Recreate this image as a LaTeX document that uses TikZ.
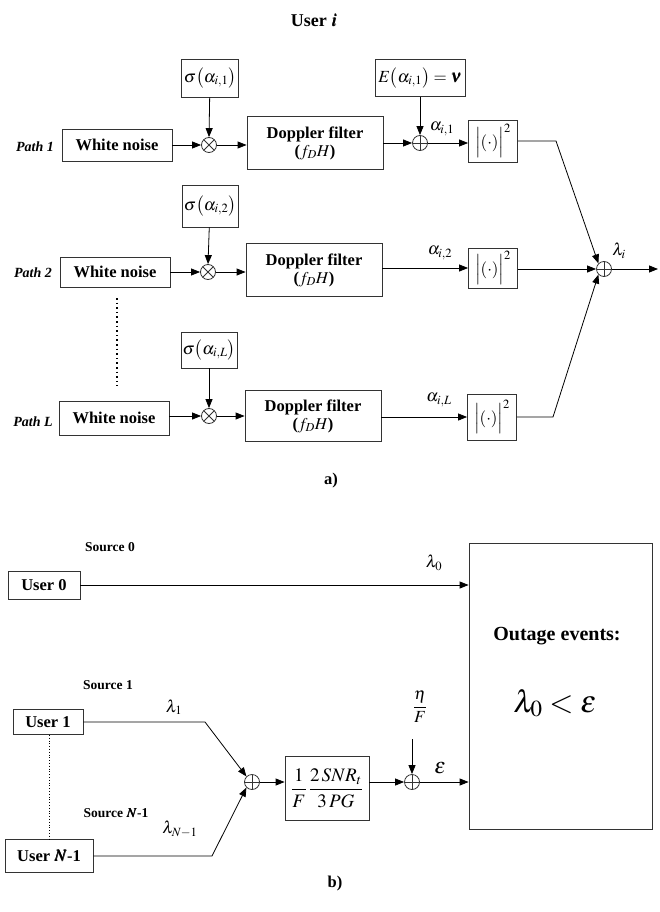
\documentclass[tikz,border=0pt]{standalone}
\usepackage{amsmath}
\usepackage{mathptmx}
\usepackage{bm}
\usepackage{fontspec}
\setmainfont{Liberation Serif}
\usetikzlibrary{arrows.meta,calc}
\tikzset{
  every picture/.style={line width=0.8pt},
  box/.style={draw=black!80, inner sep=0pt, align=center},
  lab/.style={inner sep=0pt, font=\fontsize{16.5}{18}\selectfont\bfseries},
  mth/.style={inner sep=0pt, font=\fontsize{17}{19}\selectfont},
  small/.style={inner sep=0pt, font=\fontsize{13.5}{15}\selectfont\bfseries},
  pathlab/.style={inner sep=0pt, font=\fontsize{14}{16}\selectfont\bfseries\itshape},
  junc/.style={draw=black!80, circle, minimum size=15pt, inner sep=0pt},
  arr/.style={-{Triangle[length=9pt,width=7pt]}},
}
\newcommand{\mult}[1]{\draw[black!80] ($(#1)+(-5.3,-5.3)$) -- ($(#1)+(5.3,5.3)$) ($(#1)+(-5.3,5.3)$) -- ($(#1)+(5.3,-5.3)$);}
\newcommand{\addr}[1]{\draw[black!80] ($(#1)+(-7.5,0)$) -- ($(#1)+(7.5,0)$) ($(#1)+(0,-7.5)$) -- ($(#1)+(0,7.5)$);}
\newcommand{\sq}{$\Bigl|(\cdot)\Bigr|^2$}
\begin{document}
\begin{tikzpicture}[x=1pt,y=-1pt]
\useasboundingbox (0,0) rectangle (659,912);

% ---------- part a ----------
\node[inner sep=0pt, font=\fontsize{18}{20}\selectfont\bfseries] (title) at (314,20) {User $\bm{i}$};

% Path 1
\node[pathlab] (p1) at (35,147) {Path 1};
\node[box, lab, minimum width=110pt, minimum height=32pt] (wn1) at (117,145) {White noise};
\node[junc] (m1) at (209,145) {}; \mult{m1}
\node[box, mth, minimum width=57pt, minimum height=38pt] (s1) at (210,78) {$\sigma\bigl(\alpha_{i,1}\bigr)$};
\node[box, lab, minimum width=136pt, minimum height=53pt] (d1) at (315,143) {Doppler filter\\($f_D H$)};
\node[junc] (a1) at (420,143) {}; \addr{a1}
\node[box, mth, minimum width=90pt, minimum height=37pt] (e1) at (420,78) {$E\bigl(\alpha_{i,1}\bigr)=\bm{\nu}$};
\node[box, mth, minimum width=49pt, minimum height=42pt] (q1) at (493,141) {\sq};
\node[mth] (al1) at (442,129) {$\alpha_{i,1}$};

% Path 2
\node[pathlab] (p2) at (33,273) {Path 2};
\node[box, lab, minimum width=110pt, minimum height=30pt] (wn2) at (115,272) {White noise};
\node[junc] (m2) at (208,272) {}; \mult{m2}
\node[box, mth, minimum width=56pt, minimum height=42pt] (s2) at (210,206) {$\sigma\bigl(\alpha_{i,2}\bigr)$};
\node[box, lab, minimum width=136pt, minimum height=53pt] (d2) at (314,270) {Doppler filter\\($f_D H$)};
\node[box, mth, minimum width=49pt, minimum height=40pt] (q2) at (493,268) {\sq};
\node[mth] (al2) at (440,253) {$\alpha_{i,2}$};

% Path L
\node[pathlab] (pL) at (33,422) {Path L};
\node[box, lab, minimum width=110pt, minimum height=34pt] (wnL) at (114,418) {White noise};
\node[junc] (mL) at (209,416) {}; \mult{mL}
\node[box, mth, minimum width=56pt, minimum height=36pt] (sL) at (209,350) {$\sigma\bigl(\alpha_{i,L}\bigr)$};
\node[box, lab, minimum width=136pt, minimum height=51pt] (dL) at (313,416) {Doppler filter\\($f_D H$)};
\node[box, mth, minimum width=49pt, minimum height=46pt] (qL) at (492,417) {\sq};
\node[mth] (alL) at (439,400) {$\alpha_{i,L}$};

% summation
\node[junc] (sum) at (604,269) {}; \addr{sum}
\node[mth] (lami) at (619,251) {$\lambda_i$};
\coordinate (out) at (658,269);
\coordinate (k1) at (556,141);
\coordinate (kL) at (553,417);

\draw[arr] (wn1.east |- m1) -- (m1.west);
\draw[arr] (s1) -- (m1.north);
\draw[arr] (m1.east) -- (m1.east -| d1.west);
\draw[arr] (d1.east |- a1) -- (a1.west);
\draw[arr] (e1) -- (a1.north);
\draw[arr] (a1.east) -- (a1.east -| q1.west);
\draw[arr] (q1.east) -- (k1) -- (sum.north west);

\draw[arr] (wn2.east |- m2) -- (m2.west);
\draw[arr] (s2) -- (m2.north);
\draw[arr] (m2.east) -- (m2.east -| d2.west);
\draw[arr] (d2.east |- q2) -- (q2.west);
\draw[arr] (q2.east |- sum) -- (sum.west);

\draw[arr] (wnL.east |- mL) -- (mL.west);
\draw[arr] (sL) -- (mL.north);
\draw[arr] (mL.east) -- (mL.east -| dL.west);
\draw[arr] (dL.east |- qL) -- (qL.west);
\draw[arr] (qL.east) -- (kL) -- (sum.south west);

\draw[arr] (sum.east) -- (out);

\coordinate (dt1) at (117,298);
\coordinate (dt2) at (117,386);
\draw[line width=1.6pt, dash pattern=on 1.6pt off 3pt, line cap=butt] (dt1) -- (dt2);

\node[lab] (la) at (331,481) {a)};

% ---------- part b ----------
\node[small] (src0) at (110,547) {Source 0};
\node[box, lab, minimum width=72pt, minimum height=28pt] (u0) at (44,585) {User 0};
\node[box, minimum width=183pt, minimum height=286pt] (out2) at (560.5,686) {};
\node[inner sep=0pt, font=\fontsize{20}{22}\selectfont\bfseries] (oe) at (557,636) {Outage events:};
\node[inner sep=0pt, font=\fontsize{31}{33}\selectfont] (ineq) at (555,703) {$\lambda_0<\varepsilon$};
\node[mth] (lam0) at (434,563) {$\lambda_0$};
\draw[arr] (u0.east) -- (u0.east -| out2.west);

\node[small] (src1) at (108,685) {Source 1};
\node[box, lab, minimum width=70pt, minimum height=25pt] (u1) at (48,722) {User 1};
\node[small] (srcN) at (116,813) {Source $\bm{N}$-1};
\node[box, lab, minimum width=88pt, minimum height=33pt] (uN) at (49,856) {User $\bm{N}$-1};
\draw[dotted] (u1.south -| 49,0) -- (uN.north -| 49,0);

\node[junc] (b1) at (252,782) {}; \addr{b1}
\coordinate (c1) at (205,722);
\coordinate (cN) at (212,856);
\node[mth] (lam1) at (174,707) {$\lambda_1$};
\node[mth] (lamN) at (180,829) {$\lambda_{N-1}$};
\draw[arr] (u1.east) -- (c1) -- (b1.north west);
\draw[arr] (uN.east) -- (cN) -- (b1.south west);

\node[box, inner sep=0pt, font=\fontsize{19}{21}\selectfont, minimum width=84pt, minimum height=64pt] (frac) at (327,788) {$\dfrac{1}{F}\,\dfrac{2\,SNR_t}{3\,PG}$};
\draw[arr] (b1.east) -- (b1.east -| frac.west);

\node[junc] (b2) at (412,782) {}; \addr{b2}
\draw[arr] (frac.east |- b2) -- (b2.west);
\node[mth] (etaF) at (420,707) {$\dfrac{\eta}{F}$};
\coordinate (etop) at (412,739);
\draw[arr] (etop) -- (b2.north);
\node[inner sep=0pt, font=\fontsize{22}{24}\selectfont] (eps) at (440,768) {$\varepsilon$};
\draw[arr] (b2.east) -- (b2.east -| out2.west);

\node[lab] (lb) at (335,884) {b)};
\end{tikzpicture}
\end{document}
